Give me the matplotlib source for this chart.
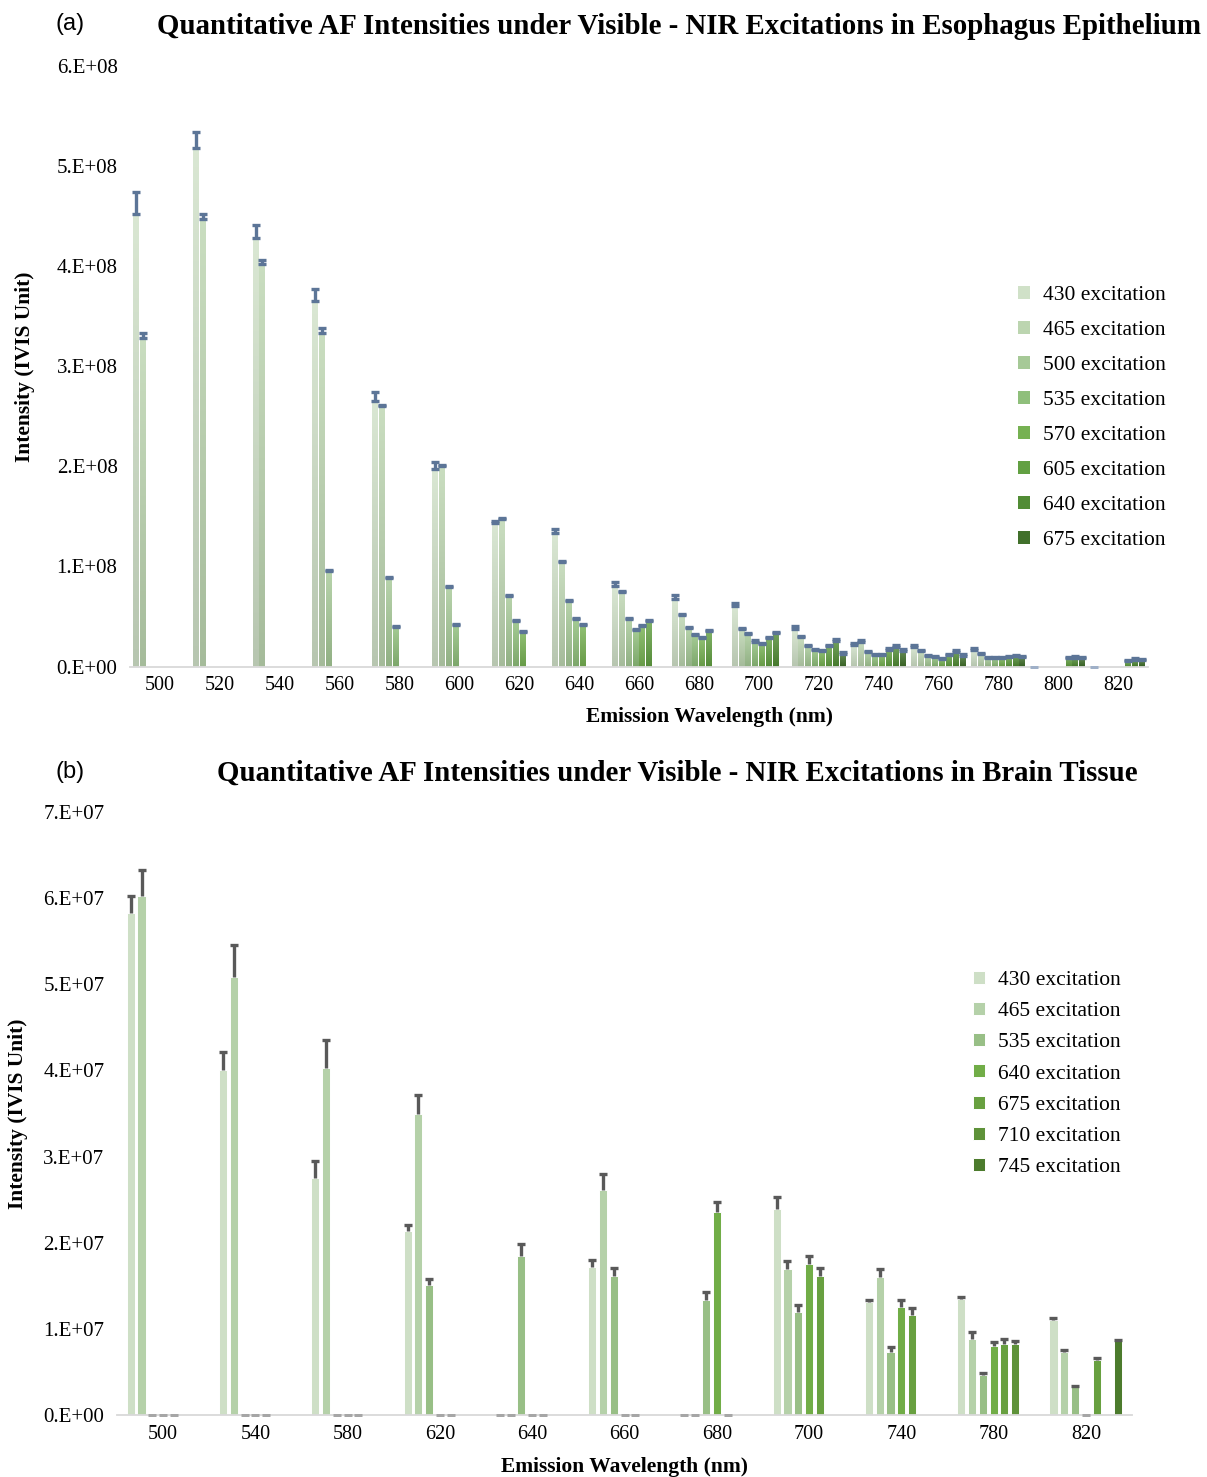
import numpy as np
import matplotlib
matplotlib.use("Agg")
import matplotlib.pyplot as plt
from matplotlib.colors import LinearSegmentedColormap, to_rgb

nan = np.nan

# ---------------- Panel (a): Esophagus epithelium (values in 1e8) ----------------
A_EMISSION = [500, 520, 540, 560, 580, 600, 620, 640, 660, 680, 700, 720, 740, 760, 780, 800, 820]
A_LABELS = ["430 excitation", "465 excitation", "500 excitation", "535 excitation",
            "570 excitation", "605 excitation", "640 excitation", "675 excitation"]
A_430 = [4.52, 5.18, 4.28, 3.65, 2.65, 1.97, 1.435, 1.33, 0.80, 0.67, 0.60, 0.37, 0.215, 0.19, 0.16, 0.0, 0.0]
A_465 = [3.28, 4.47, 4.02, 3.33, 2.60, 2.00, 1.47, 1.04, 0.74, 0.51, 0.37, 0.29, 0.245, 0.15, 0.12, nan, nan]
A_500 = [nan, nan, nan, 0.955, 0.88, 0.79, 0.70, 0.65, 0.47, 0.38, 0.32, 0.20, 0.14, 0.10, 0.08, nan, nan]
A_535 = [nan, nan, nan, nan, 0.395, 0.41, 0.45, 0.47, 0.36, 0.31, 0.245, 0.16, 0.115, 0.09, 0.08, nan, nan]
A_570 = [nan, nan, nan, nan, nan, nan, 0.34, 0.41, 0.40, 0.28, 0.22, 0.15, 0.115, 0.075, 0.08, nan, nan]
A_605 = [nan, nan, nan, nan, nan, nan, nan, nan, 0.45, 0.35, 0.28, 0.20, 0.165, 0.11, 0.09, 0.08, 0.05]
A_640 = [nan, nan, nan, nan, nan, nan, nan, nan, nan, nan, 0.33, 0.25, 0.19, 0.14, 0.10, 0.085, 0.065]
A_675 = [nan, nan, nan, nan, nan, nan, nan, nan, nan, nan, nan, 0.125, 0.155, 0.105, 0.09, 0.08, 0.06]

A_ERR_430 = [0.22, 0.16, 0.13, 0.12, 0.09, 0.07, 0.02, 0.04, 0.04, 0.04, 0.03, 0.03, 0.02, 0.02, 0.02, 0.0, 0.0]
A_ERR_465 = [0.05, 0.05, 0.04, 0.05, 0.015, 0.015, 0.015, 0.015, 0.015, 0.015, 0.015, 0.015, 0.015, 0.015, 0.015, nan, nan]
A_ERR_500 = [nan, nan, nan, 0.01, 0.01, 0.01, 0.015, 0.015, 0.015, 0.015, 0.015, 0.015, 0.015, 0.015, 0.01, nan, nan]
A_ERR_535 = [nan, nan, nan, nan, 0.01, 0.01, 0.015, 0.015, 0.015, 0.015, 0.015, 0.015, 0.01, 0.01, 0.01, nan, nan]
A_ERR_570 = [nan, nan, nan, nan, nan, nan, 0.015, 0.015, 0.015, 0.015, 0.015, 0.01, 0.01, 0.01, 0.01, nan, nan]
A_ERR_605 = [nan, nan, nan, nan, nan, nan, nan, nan, 0.01, 0.015, 0.015, 0.015, 0.015, 0.015, 0.01, 0.015, 0.01]
A_ERR_640 = [nan, nan, nan, nan, nan, nan, nan, nan, nan, nan, 0.015, 0.02, 0.02, 0.02, 0.015, 0.015, 0.015]
A_ERR_675 = [nan, nan, nan, nan, nan, nan, nan, nan, nan, nan, nan, 0.015, 0.015, 0.015, 0.015, 0.01, 0.01]

A_YTICKS = [0, 1, 2, 3, 4, 5, 6]
A_YTICKLABELS = ["0.E+00", "1.E+08", "2.E+08", "3.E+08", "4.E+08", "5.E+08", "6.E+08"]
A_SCALE = 1e8

# ---------------- Panel (b): Brain tissue (values in 1e7) ----------------
B_EMISSION = ["500", "540", "580", "620", "640", "660", "680", "700", "740", "780", "820"]
B_LABELS = ["430 excitation", "465 excitation", "535 excitation", "640 excitation",
            "675 excitation", "710 excitation", "745 excitation"]
B_430 = [5.83, 4.01, 2.75, 2.14, 0.0, 1.72, 0.0, 2.39, 1.31, 1.35, 1.10]
B_465 = [6.03, 5.08, 4.03, 3.49, 0.0, 2.61, 0.0, 1.70, 1.60, 0.88, 0.73]
B_535 = [0.0, 0.0, 0.0, 1.51, 1.85, 1.61, 1.34, 1.19, 0.73, 0.46, 0.32]
B_640 = [0.0, 0.0, 0.0, 0.0, 0.0, 0.0, 2.36, 1.75, 1.25, 0.80, 0.0]
B_675 = [0.0, 0.0, 0.0, 0.0, 0.0, 0.0, 0.0, 1.61, 1.16, 0.82, 0.64]
B_710 = [nan, nan, nan, nan, nan, nan, nan, nan, nan, 0.82, nan]
B_745 = [nan, nan, nan, nan, nan, nan, nan, nan, nan, nan, 0.86]

B_ERR_430 = [0.20, 0.20, 0.20, 0.07, 0.0, 0.08, 0.0, 0.14, 0.03, 0.02, 0.03]
B_ERR_465 = [0.30, 0.38, 0.32, 0.23, 0.0, 0.19, 0.0, 0.09, 0.10, 0.08, 0.02]
B_ERR_535 = [0.0, 0.0, 0.0, 0.07, 0.13, 0.10, 0.09, 0.09, 0.06, 0.03, 0.02]
B_ERR_640 = [0.0, 0.0, 0.0, 0.0, 0.0, 0.0, 0.11, 0.10, 0.09, 0.05, 0.0]
B_ERR_675 = [0.0, 0.0, 0.0, 0.0, 0.0, 0.0, 0.0, 0.10, 0.08, 0.06, 0.02]
B_ERR_710 = [nan, nan, nan, nan, nan, nan, nan, nan, nan, 0.04, nan]
B_ERR_745 = [nan, nan, nan, nan, nan, nan, nan, nan, nan, nan, 0.01]

B_YTICKS = [0, 1, 2, 3, 4, 5, 6, 7]
B_YTICKLABELS = ["0.E+00", "1.E+07", "2.E+07", "3.E+07", "4.E+07", "5.E+07", "6.E+07", "7.E+07"]
B_SCALE = 1e7

A_COLORS = ["#d0e1c8", "#bcd5b0", "#a6c997", "#8fbf7b", "#76b152", "#62a042", "#518c35", "#41702b"]
B_COLORS = ["#cedfc6", "#b5d1a9", "#98bf86", "#71ad47", "#68a040", "#5e9239", "#4c7b2d"]

SERIF = "Liberation Serif"
SANS = "Liberation Sans"

fig = plt.figure(figsize=(12.07, 14.77), dpi=100)


def style_axes(ax, ncat, ymax, yticks, yticklabels, scale, cats):
    for s in ["top", "right", "left"]:
        ax.spines[s].set_visible(False)
    ax.spines["bottom"].set_color("#d9d9d9")
    ax.spines["bottom"].set_linewidth(1.3)
    ax.set_yticks([t * scale for t in yticks])
    ax.set_yticklabels(yticklabels, fontfamily=SERIF, fontsize=15)
    ax.set_xticks(np.arange(ncat))
    ax.set_xticklabels(cats, fontfamily=SERIF, fontsize=14.5)
    ax.tick_params(axis="both", length=0)
    ax.tick_params(axis="y", pad=9)
    ax.tick_params(axis="x", pad=7)
    ax.set_xlabel("Emission Wavelength (nm)", fontfamily=SERIF, fontweight="bold", fontsize=15.5)
    ax.set_ylabel("Intensity (IVIS Unit)", fontfamily=SERIF, fontweight="bold", fontsize=15.5)
    ax.set_xlim(-0.5, ncat - 0.5)
    ax.set_ylim(0, ymax * scale)


def shade(c, f):
    r = np.array(to_rgb(c))
    if f >= 0:
        return tuple(r + (1 - r) * f)
    return tuple(r * (1 + f))


def draw_bars(ax, series, errors, labels, colors, scale, step, width, ecolor, zero_color,
              capsize, lw, both_caps, gradient):
    n = len(series)
    grad = np.linspace(0, 1, 64).reshape(-1, 1)
    for i, (vals, errs) in enumerate(zip(series, errors)):
        v = np.array(vals, dtype=float) * scale
        e = np.array(errs, dtype=float) * scale
        x = np.arange(len(v)) + (i - (n - 1) / 2) * step
        if gradient:
            bars = ax.bar(x, v, width, color=colors[i], edgecolor="none", linewidth=0,
                          label=labels[i], zorder=2)
            cmap = LinearSegmentedColormap.from_list(
                "g%d" % i, [shade(colors[i], -0.12), shade(colors[i], 0.2)])
            for b in bars.patches:
                h = b.get_height()
                if not np.isfinite(h) or h <= 0:
                    continue
                x0 = b.get_x()
                im = ax.imshow(grad, extent=[x0, x0 + b.get_width(), 0, h], origin="lower",
                               aspect="auto", cmap=cmap, interpolation="bilinear", zorder=2.1)
                im.set_clip_path(b)
        else:
            ax.bar(x, v, width, color=colors[i], edgecolor="white", linewidth=0.7,
                   label=labels[i], zorder=2)
        pos = np.isfinite(v) & (v > 0)
        zero = np.isfinite(v) & (v == 0)
        if both_caps:
            ax.errorbar(x[pos], v[pos], yerr=[np.zeros(pos.sum()), e[pos]], fmt="none",
                        ecolor=ecolor, elinewidth=lw, capsize=capsize, capthick=lw, zorder=3)
        else:
            ax.errorbar(x[pos], v[pos], yerr=[np.zeros(pos.sum()), e[pos]], fmt="none",
                        ecolor=ecolor, elinewidth=lw, capsize=0, zorder=3)
            ax.plot(x[pos], v[pos] + e[pos], ls="none", marker="_", ms=capsize * 2,
                    mew=lw, color=ecolor, zorder=3)
        ax.plot(x[zero], v[zero], ls="none", marker="_", ms=capsize * 2, mew=lw * 0.9,
                color=zero_color, zorder=3, clip_on=False)


# ---------- Panel (a) ----------
axA = fig.add_axes([130 / 1207, 1 - 666.5 / 1477, 1018 / 1207, 600.5 / 1477])
draw_bars(axA, [A_430, A_465, A_500, A_535, A_570, A_605, A_640, A_675],
          [A_ERR_430, A_ERR_465, A_ERR_500, A_ERR_535, A_ERR_570, A_ERR_605, A_ERR_640, A_ERR_675],
          A_LABELS, A_COLORS, A_SCALE, 0.115, 0.1, "#5c7597", "#9fb0c8", 2.8, 2.4, True, True)
style_axes(axA, len(A_EMISSION), 6, A_YTICKS, A_YTICKLABELS, A_SCALE, [str(c) for c in A_EMISSION])
axA.xaxis.set_label_coords(0.569, -0.068)
axA.yaxis.set_label_coords(-0.093, 0.5)
legA = axA.legend(loc="center left", bbox_to_anchor=(1018 / 1207, 1 - 418 / 1477),
                  bbox_transform=fig.transFigure, frameon=False, prop={"family": SERIF, "size": 15.5},
                  handlelength=0.55, handleheight=0.55, handletextpad=0.6, labelspacing=0.74,
                  borderpad=0, borderaxespad=0)

# ---------- Panel (b) ----------
axB = fig.add_axes([117 / 1207, 1 - 1415 / 1477, 1015 / 1207, 603 / 1477])
draw_bars(axB, [B_430, B_465, B_535, B_640, B_675, B_710, B_745],
          [B_ERR_430, B_ERR_465, B_ERR_535, B_ERR_640, B_ERR_675, B_ERR_710, B_ERR_745],
          B_LABELS, B_COLORS, B_SCALE, 0.117, 0.088, "#595959", "#a6a6a6", 3.0, 2.4, False, False)
style_axes(axB, len(B_EMISSION), 7, B_YTICKS, B_YTICKLABELS, B_SCALE, B_EMISSION)
axB.xaxis.set_label_coords(0.5, -0.07)
axB.yaxis.set_label_coords(-0.088, 0.5)
legB = axB.legend(loc="center left", bbox_to_anchor=(973 / 1207, 1 - 1074 / 1477),
                  bbox_transform=fig.transFigure, frameon=False, prop={"family": SERIF, "size": 15.5},
                  handlelength=0.55, handleheight=0.55, handletextpad=0.6, labelspacing=0.56,
                  borderpad=0, borderaxespad=0)

# ---------- Titles ----------
fig.text(679 / 1207, 1 - 26 / 1477, "Quantitative AF Intensities under Visible - NIR Excitations in Esophagus Epithelium",
         ha="center", va="center", fontfamily=SERIF, fontweight="bold", fontsize=20.8)
fig.text(677 / 1207, 1 - 773 / 1477, "Quantitative AF Intensities under Visible - NIR Excitations in Brain Tissue",
         ha="center", va="center", fontfamily=SERIF, fontweight="bold", fontsize=20.8)
fig.text(55 / 1207, 1 - 24 / 1477, "(a)", ha="left", va="center", fontfamily=SANS, fontsize=17)
fig.text(55 / 1207, 1 - 772 / 1477, "(b)", ha="left", va="center", fontfamily=SANS, fontsize=17)

fig.savefig("out.png", dpi=100, facecolor="white")
